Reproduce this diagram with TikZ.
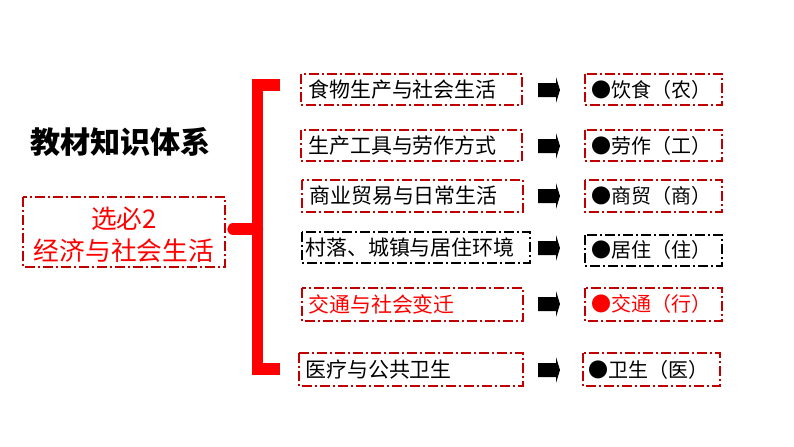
\documentclass[tikz,border=0pt]{standalone}
\usepackage{fontspec}
\newfontfamily\cjk{Noto Sans CJK SC}
\definecolor{boxred}{HTML}{C00000}
\definecolor{brred}{HTML}{FF0000}
\begin{document}
\begin{tikzpicture}[x=0.75pt,y=-0.75pt,
  ddbox/.style={draw=boxred,line width=1.5pt,dash pattern=on 7.5pt off 2.5pt on 1pt off 2.5pt},
  blkbox/.style={draw=black,line width=1.5pt,dash pattern=on 7.5pt off 2.5pt on 1pt off 2.5pt},
  lbl/.style={font=\cjk\fontsize{15.7pt}{18pt}\selectfont,anchor=west,inner sep=0pt},
  res/.style={font=\cjk\fontsize{15pt}{18pt}\selectfont,anchor=west,inner sep=0pt},
  brk/.style={draw=brred,line width=8.5pt}]
\useasboundingbox (0,0) rectangle (794,447);
\fill[white] (0,0) rectangle (794,447);
% title
\node[font=\cjk\bfseries\fontsize{22.6pt}{26pt}\selectfont,anchor=west,inner sep=0pt] (title) at (30,142) {教材知识体系};
% left box
\draw[ddbox] (23,197) rectangle (225,267);
\node[font=\cjk\fontsize{19.3pt}{23pt}\selectfont,text=brred,inner sep=0pt] (l1) at (124,219) {选必2};
\node[font=\cjk\fontsize{19.3pt}{23pt}\selectfont,text=brred,inner sep=0pt] (l2) at (124,251) {经济与社会生活};
% bracket
\coordinate (bt) at (280,85);
\coordinate (bb) at (280,369);
\coordinate (bc) at (257.5,229);
\coordinate (bl) at (233,229);
\draw[brk,line join=miter] (bt) -| (257.5,369) -- (bb);
\draw[brk,line cap=round] (bl) -- (bc);
% topic boxes
\draw[ddbox] (301,74) rectangle (522,105);
\draw[ddbox] (301,130) rectangle (522,161);
\draw[ddbox] (302,180) rectangle (523,212);
\draw[blkbox] (302,232) rectangle (530,263);
\draw[ddbox] (302,288) rectangle (523,321);
\draw[ddbox] (299,353) rectangle (523,386);
\node[lbl] (t1) at (308,90) {食物生产与社会生活};
\node[lbl] (t2) at (308,146) {生产工具与劳作方式};
\node[lbl] (t3) at (309,196) {商业贸易与日常生活};
\node[lbl] (t4) at (305,248) {村落、城镇与居住环境};
\node[lbl,text=brred] (t5) at (308,304) {交通与社会变迁};
\node[lbl] (t6) at (305,370) {医疗与公共卫生};
% result boxes
\draw[ddbox] (585,74) rectangle (722,105);
\draw[ddbox] (585,130) rectangle (722,161);
\draw[ddbox] (585,180) rectangle (722,212);
\draw[blkbox] (585,235) rectangle (722,266);
\draw[ddbox] (585,288) rectangle (722,321);
\draw[ddbox] (583,353) rectangle (720,386);
\node[res] (r1) at (591,90) {●饮食（农）};
\node[res] (r2) at (591,146) {●劳作（工）};
\node[res] (r3) at (591,196) {●商贸（商）};
\node[res] (r4) at (591,250) {●居住（住）};
\node[res,text=brred] (r5) at (591,304) {●交通（行）};
\node[res] (r6) at (588,370) {●卫生（医）};
% arrows
\foreach \yy in {90,146,196,248,304,370}{
  \fill[black] (538,\yy-7) -- (556,\yy-7) -- (556,\yy-13) -- (560,\yy) -- (556,\yy+13) -- (556,\yy+7) -- (538,\yy+7) -- cycle;
}
\end{tikzpicture}
\end{document}
